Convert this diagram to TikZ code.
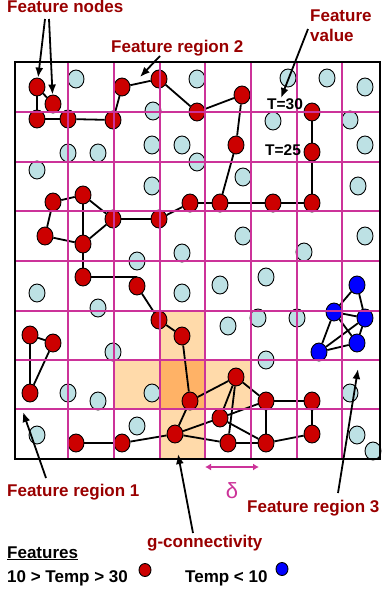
\documentclass[tikz,border=0pt]{standalone}
\usepackage{fontspec}
\setmainfont{Liberation Sans}
\usetikzlibrary{shapes.geometric,arrows.meta}

\definecolor{gridpink}{RGB}{204,51,153}
\definecolor{lblred}{RGB}{153,0,0}
\definecolor{nodered}{RGB}{204,0,0}
\definecolor{nodecyan}{RGB}{189,225,228}
\definecolor{cellpale}{RGB}{255,218,170}
\definecolor{celldeep}{RGB}{255,178,102}

\pgfdeclarelayer{cells}
\pgfdeclarelayer{edges}
\pgfsetlayers{cells,edges,main}

\begin{document}
\begin{tikzpicture}[
    x=1pt, y=-1pt,
    >={Latex[length=10pt,width=8pt]},
    hot/.style={draw, ellipse, fill=nodered, line width=0.9pt, minimum width=16pt, minimum height=18pt, inner sep=0pt},
    cold/.style={hot, fill=blue},
    idle/.style={hot, fill=nodecyan},
    link/.style={line width=1.8pt},
    pointer/.style={->, line width=1.8pt},
    lbl/.style={font=\fontsize{17}{20}\selectfont\bfseries, text=lblred, inner sep=0pt},
    tval/.style={font=\fontsize{15.5}{18}\selectfont\bfseries, inner sep=0pt}
]
    \useasboundingbox (0,0) rectangle (381,592);

    % g-connectivity cells
    \begin{pgfonlayer}{cells}
    \fill[cellpale] (160,311) rectangle (205,360);
    \fill[cellpale] (114,360) rectangle (251,409);
    \fill[cellpale] (160,409) rectangle (205,459);
    \fill[celldeep] (160,360) rectangle (205,409);
    \end{pgfonlayer}

    % Feature nodes (red)
    \foreach \n/\x/\y in {r1/37/87, r2/53/104, r3/37/119, r4/68/119, r5/113/120, r6/122/87,
        r7/159/79, r8/197/112, r9/242/95, r10/236/145, r11/190/203, r12/220/203,
        r13/273/203, r14/312/203, r15/312/152, r16/312/112,
        r17/53/202, r18/83/195, r19/113/219, r20/159/219, r21/45/236, r22/83/244,
        r23/83/277, r24/137/286, r25/159/320, r26/182/336, r27/190/401, r28/175/434,
        r29/122/443, r30/76/443, r31/236/377, r32/266/401, r33/312/401, r34/220/418,
        r35/228/443, r36/266/443, r37/312/434, f1/30/335, f2/53/343, f3/30/393}
        \node[hot] (\n) at (\x,\y) {};
    % Feature nodes (blue)
    \foreach \n/\x/\y in {b1/357/285, b2/334/312, b3/365/318, b4/357/343, b5/319/352}
        \node[cold] (\n) at (\x,\y) {};

    % Edges
    \begin{pgfonlayer}{edges}
    \foreach \a/\b in {r1/r2, r1/r3, r3/r4, r4/r5, r5/r6, r6/r7, r7/r8, r8/r9, r9/r10,
        r10/r12, r11/r12, r12/r13, r13/r14, r14/r15, r15/r16, r20/r11, r19/r20,
        r18/r19, r17/r18, r17/r21, r21/r22, r18/r22, r22/r19, r22/r23, r24/r25,
        r25/r26, r26/r27, r27/r28, r27/r31, r28/r29, r29/r30, r28/r34, r28/r35,
        r34/r31, r35/r31, r31/r32, r34/r32, r34/r36, r35/r36, r32/r33, r33/r37,
        r37/r36, r32/r36, f1/f2, f1/f3, f2/f3,
        b1/b2, b1/b3, b2/b3, b2/b5, b2/b4, b5/b3, b5/b4, b3/b4}
        \draw[link] (\a) -- (\b);
    \draw[link] (r23) -| (r24);
    \end{pgfonlayer}

    % Other sensor nodes
    \foreach \x/\y [count=\i] in {76/79, 153/111, 197/79, 288/78, 327/78, 365/87, 273/121,
        350/120, 68/153, 98/153, 37/170, 152/145, 182/145, 197/162, 152/186, 243/177,
        365/145, 358/186, 137/261, 182/253, 37/293, 182/293, 98/308, 243/236, 365/236,
        304/252, 220/285, 266/277, 228/326, 258/318, 297/318, 113/352, 266/360, 152/393,
        68/393, 98/401, 137/426, 37/435, 350/393, 357/435, 373/451}
        \node[idle] (c\i) at (\x,\y) {};

    % Grid
    \foreach \x in {68,114,160,205,251,297,342}
        \draw[gridpink, line width=1.6pt] (\x,62) -- (\x,459);
    \foreach \y in {112,162,211,261,311,360,409}
        \draw[gridpink, line width=1.6pt] (15,\y) -- (380,\y);
    \draw[line width=1.4pt] (15,62) rectangle (380,459);

    % Feature values
    \node[tval, anchor=base west] (t30) at (267,109) {T=30};
    \node[tval, anchor=base west] (t25) at (265,155) {T=25};

    % Labels and pointers
    \node[lbl, anchor=base west] (fnodes) at (7,12) {Feature nodes};
    \coordinate (fnA) at (45,19);
    \coordinate (fnB) at (49,19);
    \draw[pointer] (fnA) -- (r1);
    \draw[pointer] (fnB) -- (r2);

    \node[lbl, anchor=base west] (freg2) at (111,52) {Feature region 2};
    \coordinate (fr2a) at (160,56);
    \coordinate (fr2b) at (140,77);
    \draw[pointer] (fr2a) -- (fr2b);

    \node[lbl, anchor=north west, align=left] (fval) at (310,10) {Feature\\value};
    \coordinate (fva) at (308,29);
    \coordinate (fvb) at (281,98);
    \draw[pointer] (fva) -- (fvb);

    \node[lbl, anchor=base west] (freg1) at (7,496) {Feature region 1};
    \coordinate (fr1a) at (46,478);
    \coordinate (fr1b) at (23,412);
    \draw[pointer] (fr1a) -- (fr1b);

    \node[lbl, anchor=base west] (gconn) at (147,547) {g-connectivity};
    \coordinate (gca) at (193,533);
    \coordinate (gcb) at (178,454);
    \draw[pointer] (gca) -- (gcb);

    \node[lbl, anchor=base west] (freg3) at (247,512) {Feature region 3};
    \coordinate (fr3a) at (338,493);
    \coordinate (fr3b) at (358,369);
    \draw[pointer] (fr3a) -- (fr3b);

    % Grid size
    \coordinate (dL) at (205,467);
    \coordinate (dR) at (259,467);
    \draw[gridpink, line width=2.2pt, {Latex[length=6pt,width=7pt]}-{Latex[length=6pt,width=7pt]}] (dL) -- (dR);
    \node[text=gridpink, font=\fontsize{22}{24}\selectfont, anchor=base, inner sep=0pt] (delta) at (232,498) {δ};

    % Legend
    \node[lbl, text=black, anchor=base west] (legend) at (7,558) {\underline{Features}};
    \node[lbl, text=black, anchor=base west] (khotlbl) at (7,582) {10 > Temp > 30};
    \node[hot, minimum width=12pt, minimum height=13pt] (khot) at (145,570) {};
    \node[lbl, text=black, anchor=base west] (kcoldlbl) at (185,582) {Temp < 10};
    \node[cold, minimum width=12pt, minimum height=13pt] (kcold) at (282,569) {};

\end{tikzpicture}
\end{document}
